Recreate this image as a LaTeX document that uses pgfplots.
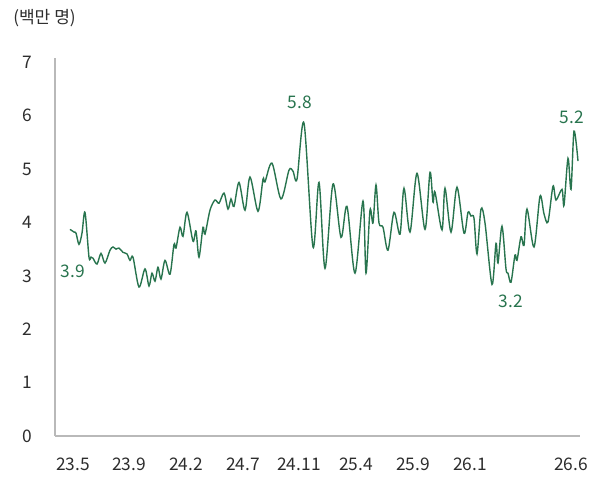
\documentclass[border=0pt]{standalone}
\usepackage{fontspec}
\setmainfont{Noto Sans CJK KR}
\usepackage{pgfplots}
\pgfplotsset{compat=1.18}
\definecolor{LineGreen}{RGB}{40,116,78}
\definecolor{TickGrey}{RGB}{45,45,45}
\definecolor{AxisGrey}{RGB}{185,185,185}

\begin{document}
\begin{tikzpicture}[x=0.75pt,y=0.75pt]
\useasboundingbox (-55,-42) rectangle (548,436);
\begin{axis}[
    at={(0,0)}, anchor=south west,
    scale only axis,
    width=393.75pt, height=283.5pt,
    xmin=55, xmax=580,
    ymin=0, ymax=7.08,
    axis x line*=bottom, axis y line*=left,
    axis line style={draw=AxisGrey, line width=0.8pt},
    separate axis lines,
    x axis line style={-}, y axis line style={-},
    xtick={73,129,186,243,299,356,413,470,571},
    xticklabels={23.5,23.9,24.2,24.7,24.11,25.4,25.9,26.1,26.6},
    ytick={0,1,2,3,4,5,6,7},
    major tick length=0pt,
    tick style={draw=none},
    /pgf/number format/assume math mode=true,
    tick label style={font=\fontsize{13}{15}\selectfont, color=TickGrey},
    xticklabel style={anchor=center, yshift=-21.5pt},
    yticklabel style={anchor=center, xshift=-21pt},
    clip=false,
]
\addplot[LineGreen, line width=1.05pt, smooth, tension=0.5] coordinates {
(70,3.87)(74,3.82)(76,3.80)(79,3.59)(82,3.80)(85,4.19)(89,3.35)(91,3.35)
(93,3.33)(97,3.22)(101,3.42)(105,3.24)(110,3.48)(113,3.54)(116,3.50)(119,3.52)
(123,3.44)(127,3.41)(130,3.29)(133,3.35)(139,2.79)(145,3.13)(149,2.81)(152,3.05)
(155,2.90)(158,3.16)(161,2.94)(165,3.29)(170,3.03)(174,3.59)(176,3.52)(180,3.91)
(183,3.74)(187,4.19)(193,3.65)(196,3.84)(199,3.35)(203,3.91)(205,3.78)(210,4.23)
(215,4.42)(219,4.36)(224,4.55)(228,4.25)(231,4.44)(234,4.30)(239,4.75)(245,4.23)
(250,4.85)(258,4.21)(263,4.81)(265,4.76)(272,5.11)(281,4.44)(289,4.98)(293,4.96)
(297,4.81)(304,5.86)(313,3.54)(319,4.75)(325,3.14)(333,4.72)(341,3.72)(347,4.30)
(355,3.05)(363,4.40)(366,3.05)(370,4.23)(373,3.99)(376,4.70)(379,3.99)(383,3.91)
(388,3.48)(394,4.19)(400,3.78)(404,4.64)(410,3.82)(417,4.92)(425,3.87)(430,4.94)
(433,4.38)(435,4.57)(442,3.86)(445,4.64)(451,3.82)(457,4.66)(464,3.80)(468,4.19)
(471,4.12)(474,4.08)(477,3.41)(481,4.25)(485,3.99)(492,2.84)(496,3.61)(498,3.24)
(502,3.93)(506,3.13)(508,3.05)(511,2.88)(515,3.39)(517,3.29)(521,3.73)(524,3.57)
(527,4.25)(534,3.54)(540,4.49)(544,4.16)(548,4.01)(553,4.68)(556,4.42)(562,4.62)
(564,4.32)(568,5.20)(571,4.62)(574,5.71)(578,5.15)
};
\node[font=\fontsize{13}{15}\selectfont, text=LineGreen] at (axis cs:73,3.09) {3.9};
\node[font=\fontsize{13}{15}\selectfont, text=LineGreen] at (axis cs:300,6.25) {5.8};
\node[font=\fontsize{13}{15}\selectfont, text=LineGreen] at (axis cs:511,2.53) {3.2};
\node[font=\fontsize{13}{15}\selectfont, text=LineGreen] at (axis cs:572,5.97) {5.2};
\node[font=\fontsize{12.8}{15}\selectfont, text=TickGrey] at (axis cs:44.5,7.82) {(백만 명)};
\end{axis}
\end{tikzpicture}
\end{document}
